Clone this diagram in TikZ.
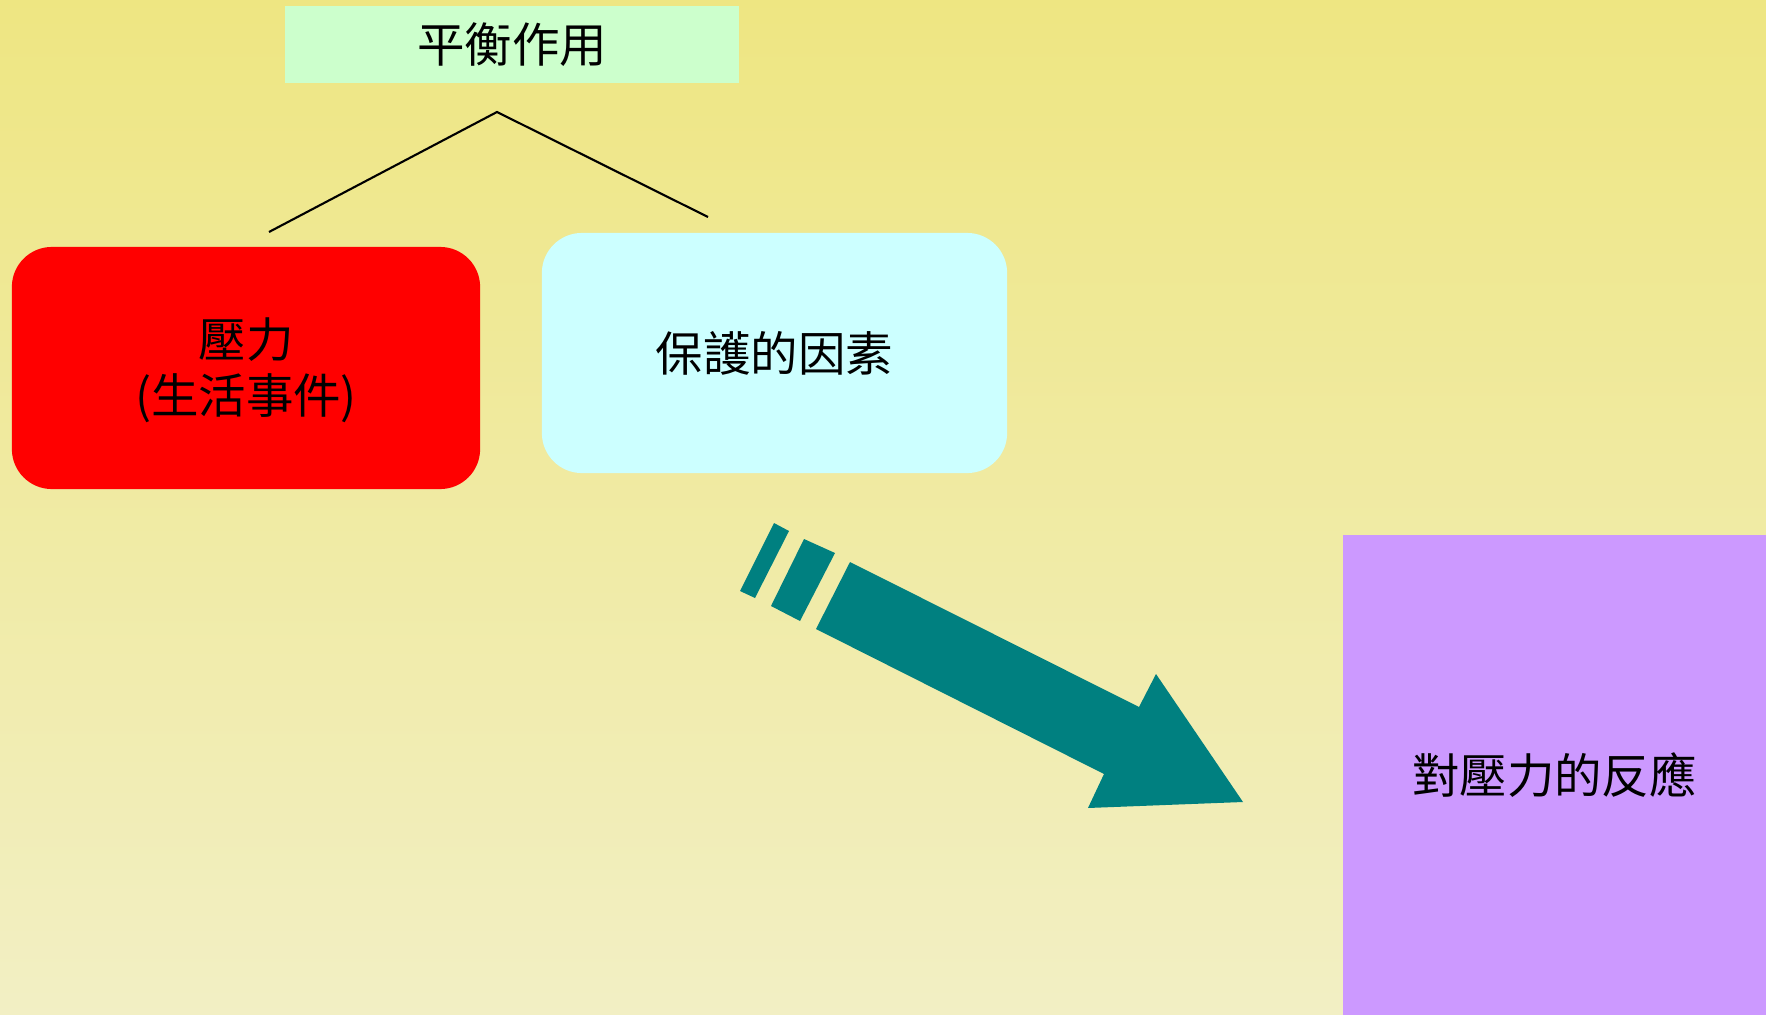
\documentclass[tikz,border=0pt]{standalone}
\usepackage{fontspec}
\newfontfamily\cjk{Noto Sans CJK TC}
\usetikzlibrary{calc}
\usetikzlibrary{positioning}

\definecolor{bgtop}{RGB}{238,230,130}
\definecolor{bgbottom}{RGB}{242,239,196}
\definecolor{mintbox}{RGB}{204,255,204}
\definecolor{cyanbox}{RGB}{204,255,255}
\definecolor{lilacbox}{RGB}{204,153,255}
\definecolor{tealarrow}{RGB}{0,128,128}

\tikzset{
  cjktext/.style={font=\cjk\fontsize{13.5}{15.9}\selectfont, align=center, inner sep=0pt},
  bluebox/.style={cjktext, rectangle, rounded corners=0.4cm},
}

\begin{document}
\begin{tikzpicture}[x=0.01cm, y=-0.01cm]
      \shade[top color=bgtop, bottom color=bgbottom] (0,0) rectangle (1766,1015);
      \useasboundingbox (0,0) rectangle (1766,1015);

      \node[cjktext, fill=mintbox, minimum width=4.54cm, minimum height=0.77cm]
        (balance) at (512,44.5) {平衡作用};
      \node[bluebox, fill=red, minimum width=4.68cm, minimum height=2.42cm]
        (stress) at (246,368) {\\[-0.12cm]壓力\\(生活事件)};
      \node[bluebox, fill=cyanbox, minimum width=4.65cm, minimum height=2.40cm]
        (protect) at (774.5,353) {保護的因素};
      \node[cjktext, fill=lilacbox, minimum width=4.23cm, minimum height=4.80cm]
        (response) at (1554.5,775) {對壓力的反應};

      \coordinate (apex) at (497,112);
      \coordinate (stress-in) at (269,232);
      \coordinate (protect-in) at (708,217);
      \draw[line width=0.6pt] (stress-in) -- (apex) -- (protect-in);

      \begin{scope}[fill=tealarrow]
        \fill (774,523) -- (789,531) -- (755,598) -- (740,591) -- cycle;
        \fill (804,539) -- (835,553) -- (800,621) -- (771,606) -- cycle;
        \fill (850,562) -- (1139,707) -- (1156,674) -- (1243,802)
          -- (1088,808) -- (1104,774) -- (816,629) -- cycle;
      \end{scope}
    \end{tikzpicture}
\end{document}
